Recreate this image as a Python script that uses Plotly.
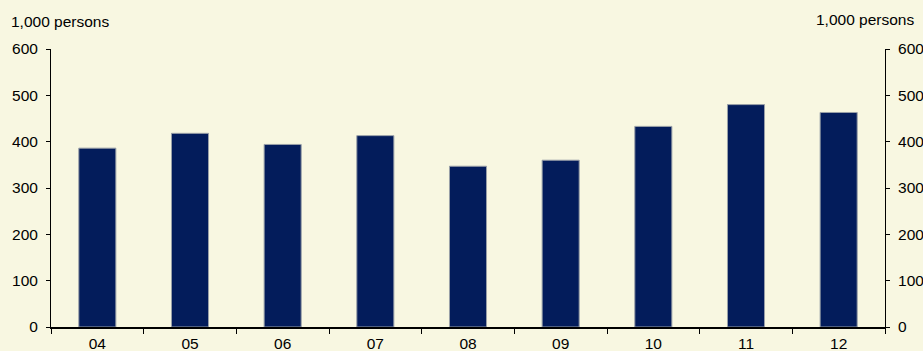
import plotly.graph_objects as go

categories = ["04", "05", "06", "07", "08", "09", "10", "11", "12"]
values = [386, 418, 394, 413, 347, 360, 433, 480, 463]
y_ticks = [0, 100, 200, 300, 400, 500, 600]
unit_label = "1,000 persons"

W, H = 923, 351
L, R, T, B = 51, 38, 49, 24
pw, ph = W - L - R, H - T - B

def px_x(x):
    return (x - L) / pw

def px_y(y):
    return (H - B - y) / ph

bg = "#F8F7E1"
bar_color = "#031C5B"
font = dict(family="Liberation Sans, Arial, sans-serif", size=15.5, color="#000000")

fig = go.Figure()
fig.add_trace(go.Bar(x=categories, y=values, width=0.4, marker=dict(color=bar_color, line=dict(color="#9aa0a8", width=1)), yaxis="y"))
fig.add_trace(go.Bar(x=categories, y=values, width=0.4, marker=dict(color=bar_color, line=dict(color="#9aa0a8", width=1)), yaxis="y2", opacity=0, hoverinfo="skip"))

fig.update_layout(
    width=W, height=H,
    margin=dict(l=L, r=R, t=T, b=B, pad=0, autoexpand=False),
    paper_bgcolor=bg, plot_bgcolor=bg,
    showlegend=False, barmode="overlay",
    font=font,
    xaxis=dict(type="category", showgrid=False, showline=True, linecolor="#000", linewidth=2,
               ticks="outside", tickson="boundaries", ticklen=5, tickcolor="#000", tickwidth=1,
               tickfont=font, zeroline=False, ticklabelstandoff=1, automargin=False),
    yaxis=dict(range=[0, 600], tickvals=y_ticks, showgrid=False, showline=True, linecolor="#000", linewidth=1,
               ticks="outside", ticklen=4, tickcolor="#000", zeroline=False, tickfont=font, ticklabelstandoff=5,
               automargin=False),
    yaxis2=dict(range=[0, 600], tickvals=y_ticks, overlaying="y", side="right", showgrid=False, showline=True,
                linecolor="#000", linewidth=1, ticks="outside", ticklen=4, tickcolor="#000", zeroline=False,
                tickfont=font, ticklabelstandoff=5, automargin=False),
    annotations=[
        dict(text=unit_label, xref="paper", yref="paper", x=px_x(9), y=px_y(22), xanchor="left", yanchor="middle",
             showarrow=False, font=font),
        dict(text=unit_label, xref="paper", yref="paper", x=px_x(916), y=px_y(20), xanchor="right", yanchor="middle",
             showarrow=False, font=font),
    ],
)

fig.write_html("out.html")
